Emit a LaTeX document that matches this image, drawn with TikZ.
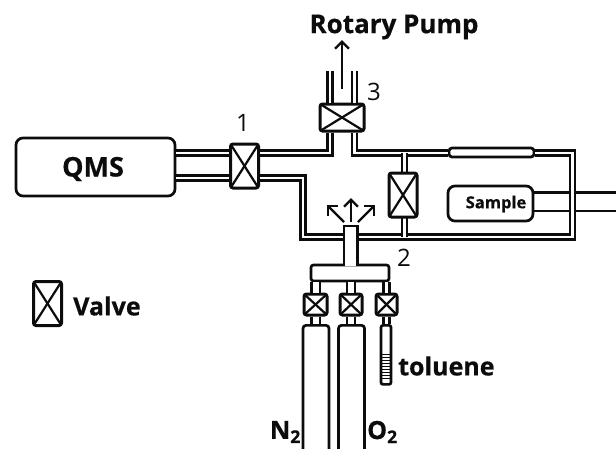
\documentclass[tikz,border=0pt]{standalone}
\usepackage{fontspec}
\setmainfont[BoldFeatures={FakeBold=0.5}]{Open Sans}
\usetikzlibrary{arrows.meta, positioning, calc}
\definecolor{linedark}{RGB}{12, 12, 12}
\tikzset{
  box/.style={
    draw=linedark,
    line width=2.7pt,
    rounded corners=7pt,
    fill=white,
    inner sep=0pt
  },
  valve/.style={
    draw=linedark,
    line width=3pt,
    rounded corners=2.5pt,
    fill=white,
    inner sep=0pt,
    path picture={
      \draw[linedark, line width=2.2pt] (path picture bounding box.north west) -- (path picture bounding box.south east);
      \draw[linedark, line width=2.2pt] (path picture bounding box.north east) -- (path picture bounding box.south west);
    }
  },
  pipe/.style={
    draw=linedark,
    line width=2.4pt,
    double=white,
    double distance=2.4pt
  },
  stem/.style={
    draw=linedark,
    line width=2.4pt,
    double=white,
    double distance=6pt
  },
  wire/.style={draw=linedark, line width=2.6pt},
  flow/.style={
    draw=linedark,
    line width=2.4pt,
    -{Straight Barb[length=7pt,width=14pt,line width=2.4pt]}
  },
  lbl/.style={font=\bfseries\fontsize{#1}{#1}\selectfont, text=linedark, inner sep=0pt},
  tag/.style={font=\fontsize{24}{24}\selectfont, text=linedark, inner sep=0pt}
}
\begin{document}
\begin{tikzpicture}[x=1pt, y=-1pt]
      \useasboundingbox (0,0) rectangle (616,448);
      \clip (0,0) rectangle (616,448);
      \fill[white] (0,0) rectangle (616,448);

      % Reference heights of the pipes
      \coordinate (upper) at (0,153);
      \coordinate (lower) at (0,178);
      \coordinate (floor) at (0,237);
      \coordinate (leftbend) at (303,0);
      \coordinate (rightbend) at (572.5,0);
      \coordinate (pumpL) at (330,0);
      \coordinate (pumpR) at (354.5,0);
      \coordinate (branch) at (404.5,0);

      % Sample leads
      \node[box, minimum width=85pt, minimum height=35pt] (sample) at (490.5,203.5) {};
      \coordinate (leadA) at (616,192.5);
      \coordinate (leadB) at (616,211);
      \draw[wire] (sample.east |- leadA) -- (leadA);
      \draw[wire] (sample.east |- leadB) -- (leadB);

      % Chamber
      \node[valve, minimum width=28pt, minimum height=44pt] (valveA) at (244.5,166) {};
      \node[valve, minimum width=44pt, minimum height=27pt] (valveC) at (342,117.5) {};
      \node[box, rounded corners=3pt, minimum width=85pt, minimum height=9pt] (tube) at (491.5,152.5) {};
      \draw[pipe] (valveA.east |- upper) -- (pumpL |- upper) -- (pumpL |- valveC.south);
      \draw[pipe] (pumpR |- valveC.south) -- (pumpR |- upper) -- (tube.west |- upper);
      \draw[pipe] (tube.east |- upper) -- (rightbend |- upper) -- (rightbend |- floor) -- (leftbend |- floor) -- (leftbend |- lower) -- (valveA.east |- lower);
      \draw[pipe] (branch |- upper) -- (branch |- floor);
      \node[valve, minimum width=28pt, minimum height=44pt] (valveD) at (403,195) {};

      % QMS
      \node[box, minimum width=159pt, minimum height=58pt] (qms) at (95.5,167) {};
      \draw[pipe] (qms.east |- upper) -- (valveA.west |- upper);
      \draw[pipe] (qms.east |- lower) -- (valveA.west |- lower);
      \node[lbl=27] at (93,169) {QMS};
      \node[lbl=16.5] at (496,204) {Sample};

      % Rotary pump
      \draw[pipe] (pumpL |- valveC.north) -- (pumpL |- 0,71);
      \draw[pipe] (pumpR |- valveC.north) -- (pumpR |- 0,71);
      \coordinate (pumptail) at (342,89);
      \coordinate (pumptip) at (342,40);
      \draw[flow] (pumptail) -- (pumptip);
      \node[lbl=26] (pump) at (394,27) {Rotary Pump};

      % Gas manifold
      \node[box, rounded corners=2.5pt, minimum width=78pt, minimum height=16pt] (manifold) at (350,273) {};
      \fill[white] (345,226) rectangle (357,266);
      \draw[wire] (344,266) -- (344,226) -- (357.5,226) -- (357.5,266);
      \fill[white] (345.3,227.3) rectangle (356.2,266);
      \coordinate (jet) at (351,222);
      \draw[flow] (jet) -- (351,198);
      \draw[flow] (344,222) -- (327,205);
      \draw[flow] (358,222) -- (375,205);

      % Cylinders
      \node[valve, minimum width=23pt, minimum height=21pt] (valveN) at (315.5,304.5) {};
      \node[valve, minimum width=22pt, minimum height=21pt] (valveO) at (351,304.5) {};
      \node[valve, minimum width=21pt, minimum height=21pt] (valveT) at (386.5,304.5) {};
      \node[box, rounded corners=3pt, anchor=north, minimum width=26pt, minimum height=135pt] (bottleN) at (316,324) {};
      \node[box, rounded corners=3pt, anchor=north, minimum width=26pt, minimum height=135pt] (bottleO) at (351.5,324) {};
      \node[box, rounded corners=2pt, anchor=north, minimum width=10pt, minimum height=59pt] (vial) at (386,324) {};
      \draw[stem] (manifold.south -| valveN) -- (valveN.north);
      \draw[stem] (manifold.south -| valveO) -- (valveO.north);
      \draw[stem, double distance=3.5pt] (manifold.south -| valveT) -- (valveT.north);
      \draw[stem] (valveN.south) -- (bottleN.north -| valveN);
      \draw[stem] (valveO.south) -- (bottleO.north -| valveO);
      \draw[stem, double distance=3.5pt] (valveT.south) -- (vial.north -| valveT);
      \foreach \level in {354,357,...,378} {
        \draw[linedark, line width=0.9pt] (381,\level) -- (391,\level);
      }

      % Labels
      \node[tag] (tagA) at (243,123) {1};
      \node[tag] (tagB) at (404,258) {2};
      \node[tag] (tagC) at (374,92) {3};
      \node[lbl=25, anchor=west] (toluene) at (398,366) {toluene};
      \node[lbl=25, anchor=east] (nitrogen) at (301,432) {N\textsubscript{2}};
      \node[lbl=25, anchor=west] (oxygen) at (367,432) {O\textsubscript{2}};
      \node[valve, minimum width=28pt, minimum height=44pt] (legend) at (47.5,303.5) {};
      \node[lbl=25, anchor=west] (legendtext) at (73,306) {Valve};
    \end{tikzpicture}
\end{document}
